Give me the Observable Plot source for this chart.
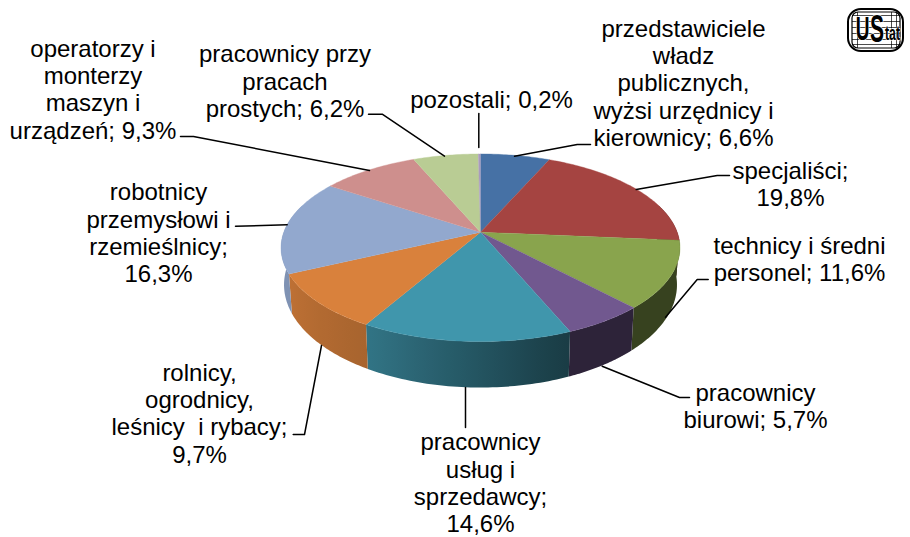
<!DOCTYPE html>
<html lang="pl">
<head>
<meta charset="utf-8">
<style>html,body{margin:0;padding:0;background:#fff}svg{display:block}</style>
<script src="https://cdn.jsdelivr.net/npm/d3@7"></script>
<script src="https://cdn.jsdelivr.net/npm/@observablehq/plot@0.6"></script>
</head>
<body>
<script>
// ---- data ----
const categories = [
  "przedstawiciele\nwładz\npublicznych,\nwyżsi urzędnicy i\nkierownicy",
  "specjaliści",
  "technicy i średni\npersonel",
  "pracownicy\nbiurowi",
  "pracownicy\nusług i\nsprzedawcy",
  "rolnicy,\nogrodnicy,\nleśnicy  i rybacy",
  "robotnicy\nprzemysłowi i\nrzemieślnicy",
  "operatorzy i\nmonterzy\nmaszyn i\nurządzeń",
  "pracownicy przy\npracach\nprostych",
  "pozostali"
];
const shares = [6.6, 19.8, 11.6, 5.7, 14.6, 9.7, 16.3, 9.3, 6.2, 0.2];
const breakBeforeValue = [false, true, false, false, true, true, true, false, false, false];
const sliceColors = ["#4671a5","#a54441","#89a44d","#71588f","#4096ac","#d9813c","#92a8ce","#ce8f8d","#b9cc94","#a99bbd"];

// ---- layout (separate from the data) ----
const labelCentres = [[683,82],[790,183.5],[799,258.5],[755,405],[480,482],[199,412.5],[158,232],[92.5,88.5],[284.5,80.5],[491,99]];
const leaders = [
  [[514,155.7],[576.7,144],[590,144]],
  [[635.7,189],[716.7,175],[729,175]],
  [[665,316.7],[696.7,279],[707.7,279]],
  [[601.7,365.7],[679,397],[689,397]],
  [[465,387],[465,427]],
  [[321,345],[304,434],[292.7,434]],
  [[286.7,224.3],[235,225.7]],
  [[369,170],[193,136],[180,136]],
  [[444,155.7],[381.7,113.7],[368,113.7]],
  [[478.3,147],[478.3,113]]
];
const pie = {cx: 480, cy: 231.7, a: 196.7, b: 91.2, k: 0.166, depth: 35.5, sx: 0.985, sy: 1.096};

// perspective view of a unit disc; turn is measured clockwise from the back of the pie
function project(turn, bottom) {
  const t = turn * 2 * Math.PI, u = Math.sin(t), v = -Math.cos(t), w = 1 - pie.k * v;
  const px = pie.a * u / w, py = pie.b * v / w;
  return bottom
    ? [pie.cx + pie.sx * px, pie.cy + pie.depth + pie.sy * py]
    : [pie.cx + px, pie.cy + py];
}
const wallShade = d3.scaleLinear([0.22, 0.44, 0.58, 0.76], [0.40, 0.40, 0.77, 0.95]).clamp(true);
function shaded(col, f) { const c = d3.rgb(col); return d3.rgb(c.r * f, c.g * f, c.b * f).formatHex(); }

const starts = d3.cumsum([0, ...shares]).map(d => d / 100);
const tops = [], wallSets = [], gradients = [];
shares.forEach((s, i) => {
  const from = starts[i], to = starts[i + 1], n = Math.max(2, Math.ceil((to - from) * 400));
  const id = "top" + i;
  tops.push({id, p: [pie.cx, pie.cy], color: sliceColors[i]});
  for (let j = 0; j <= n; j++) tops.push({id, p: project(from + (to - from) * j / n, false), color: sliceColors[i]});
  const w0 = Math.max(from, 0.2), w1 = Math.min(to, 0.8);
  if (w1 <= w0) return;
  const m = 48, turns = d3.range(m + 1).map(j => w0 + (w1 - w0) * j / m);
  const pts = [...turns.map(t => project(t, false)), ...turns.slice().reverse().map(t => project(t, true))];
  wallSets.push({pts, gid: "wall" + i});
  const x0 = project(w0, true)[0], x1 = project(w1, true)[0];
  gradients.push({
    gid: "wall" + i, x0, x1,
    stops: d3.range(13).map(j => {
      const t = w0 + (w1 - w0) * j / 12;
      const off = x1 === x0 ? 0 : (project(t, true)[0] - x0) / (x1 - x0);
      return {off: Math.max(0, Math.min(1, off)), col: shaded(sliceColors[i], wallShade(t))};
    })
  });
});

const labels = categories.map((c, i) => ({
  text: c + ";" + (breakBeforeValue[i] ? "\n" : " ") + String(shares[i]).replace(".", ",") + "%",
  x: labelCentres[i][0], y: labelCentres[i][1]
}));
const leaderPts = leaders.flatMap((l, i) => l.map(p => ({id: i, p})));

function gradientDefs() {
  const NS = "http://www.w3.org/2000/svg";
  const defs = document.createElementNS(NS, "defs");
  for (const g of gradients) {
    const lg = document.createElementNS(NS, "linearGradient");
    lg.setAttribute("id", g.gid);
    lg.setAttribute("gradientUnits", "userSpaceOnUse");
    lg.setAttribute("x1", g.x0); lg.setAttribute("x2", g.x1);
    lg.setAttribute("y1", 0); lg.setAttribute("y2", 0);
    for (const s of g.stops) {
      const st = document.createElementNS(NS, "stop");
      st.setAttribute("offset", s.off); st.setAttribute("stop-color", s.col);
      lg.appendChild(st);
    }
    defs.appendChild(lg);
  }
  return defs;
}

// ---- logo ----
const logoFont = "'Liberation Sans', sans-serif";
const logoGridY = [15, 21, 27, 33, 39, 44];
const logoGridX = [857, 891, 896];
const logoLetters = [
  {t: "U", x: 862, y: 29, size: 28, sx: 0.68, sy: 1.2, hw: 1.2},
  {t: "S", x: 876.5, y: 29, size: 30, sx: 0.7, sy: 1.3, hw: 1.2},
  {t: "tat", x: 892, y: 33.5, size: 15, sx: 0.82, sy: 1.3, hw: 1}
];

const chart = Plot.plot({
  width: 910, height: 537, margin: 0,
  x: {domain: [0, 910], axis: null},
  y: {domain: [537, 0], axis: null},
  color: {type: "identity"},
  style: {background: "transparent"},
  marks: [
    gradientDefs,
    ...wallSets.map(w => Plot.line(w.pts, {x: d => d[0], y: d => d[1], fill: `url(#${w.gid})`, stroke: "none"})),
    Plot.line(tops, {x: d => d.p[0], y: d => d.p[1], z: "id", fill: "color", stroke: "color", strokeWidth: 0.4}),
    Plot.line(leaderPts, {x: d => d.p[0], y: d => d.p[1], z: "id", stroke: "#000", strokeWidth: 1.5}),
    Plot.text(labels, {x: "x", y: "y", text: "text", fontSize: 24, lineHeight: 1.14, lineAnchor: "middle", textAnchor: "middle", fill: "#000", fontFamily: "'Liberation Sans', Arial, sans-serif"}),
    Plot.rect([0], {x1: 848, x2: 903, y1: 9, y2: 51, rx: 13, fill: "none", stroke: "#000", strokeWidth: 2}),
    Plot.rect([0], {x1: 852, x2: 900, y1: 12, y2: 48, rx: 6, fill: "none", stroke: "#000", strokeWidth: 1.2}),
    Plot.ruleY(logoGridY, {x1: 852, x2: 900, stroke: "#000", strokeWidth: 0.7}),
    Plot.ruleX(logoGridX, {y1: 12, y2: 48, stroke: "#000", strokeWidth: 0.7}),
    ...logoLetters.map(l => Plot.text([l], {x: "x", y: "y", text: "t", fontSize: l.size, fontWeight: "bold", fill: "#000", stroke: "#fff", strokeWidth: l.hw, paintOrder: "stroke", fontFamily: logoFont,
      render(index, scales, values, dims, ctx, next) {
        const g = next(index, scales, values, dims, ctx);
        g.querySelectorAll("text").forEach(el => el.setAttribute("transform", `${el.getAttribute("transform") || ""} scale(${l.sx},${l.sy})`));
        return g;
      }}))
  ]
});
document.body.appendChild(chart);
</script>
</body>
</html>
